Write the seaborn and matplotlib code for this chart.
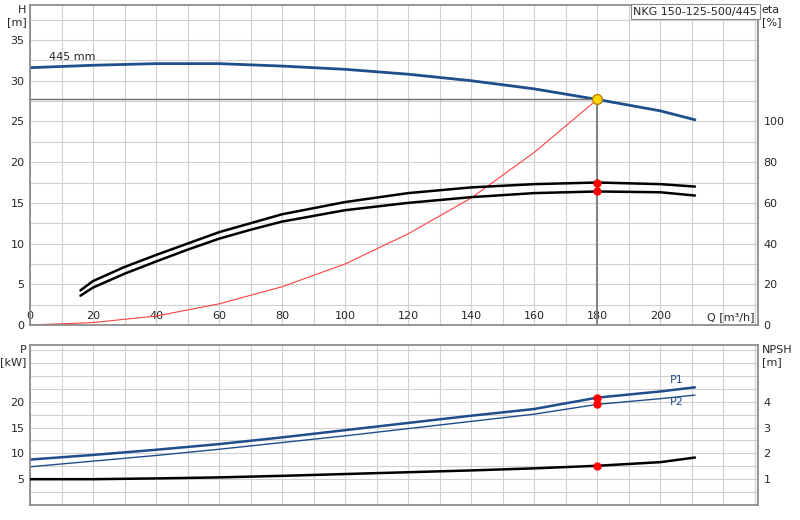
import numpy as np
import matplotlib
matplotlib.use("Agg")
import matplotlib.pyplot as plt
import seaborn as sns

# ---- data ----
q_h = [0, 20, 40, 60, 80, 100, 120, 140, 160, 180, 200, 211]
h = [31.6, 31.9, 32.1, 32.1, 31.8, 31.4, 30.8, 30.0, 29.0, 27.7, 26.3, 25.2]
q_eta = [16, 20, 30, 40, 50, 60, 70, 80, 100, 120, 140, 160, 180, 200, 211]
eta1 = [17, 21.6, 28.5, 34.4, 40, 45.6, 50, 54.4, 60.4, 64.8, 67.6, 69.2, 70, 69.2, 68]
eta2 = [14.4, 18.4, 25.2, 31.2, 37, 42.4, 46.8, 50.8, 56.4, 60, 62.8, 64.8, 65.6, 65.2, 63.6]
q_sys = [0, 20, 40, 60, 80, 100, 120, 140, 160, 180]
h_sys = [0, 0.3, 1.1, 2.6, 4.7, 7.5, 11.2, 15.6, 21.2, 27.7]
q_p = [0, 20, 40, 60, 80, 100, 120, 140, 160, 180, 200, 211]
p1 = [8.8, 9.7, 10.7, 11.8, 13.1, 14.5, 15.9, 17.3, 18.6, 20.8, 22.0, 22.8]
p2 = [7.4, 8.5, 9.6, 10.8, 12.1, 13.4, 14.8, 16.2, 17.6, 19.5, 20.6, 21.3]
npsh = [1.0, 1.0, 1.03, 1.07, 1.13, 1.2, 1.27, 1.34, 1.42, 1.52, 1.66, 1.84]
q_op = 180
h_op, eta1_op, eta2_op, p1_op, p2_op, npsh_op = 27.7, 70, 65.6, 20.8, 19.5, 1.52
x_ticks = list(range(0, 201, 20))

sns.set_theme(style="white")
plt.rcParams["font.family"] = ["DejaVu Sans"]
plt.rcParams["font.size"] = 8

fig = plt.figure(figsize=(8, 5.2), dpi=100)
ax = fig.add_axes([30/800, 1-325/520, 728/800, 320/520])
bx = fig.add_axes([30/800, 1-505/520, 728/800, 160/520])
blue = "#1f4e8c"
grid = "#d0d0d0"

for a in (ax, bx):
    a.set_xlim(0, 231)
    a.set_xticks(x_ticks)
    a.xaxis.set_minor_locator(matplotlib.ticker.MultipleLocator(10))
    a.grid(True, which="both", color=grid, lw=0.8)
    for s in a.spines.values():
        s.set_color("#888888")
    a.tick_params(which="both", labelsize=8, length=0, pad=4)

ax.set_ylim(0, 39.3)
ax.set_yticks(range(0, 36, 5))
ax.yaxis.set_minor_locator(matplotlib.ticker.MultipleLocator(2.5))
ax.set_xticklabels([str(v) for v in x_ticks])
ax.tick_params(axis="x", pad=-10)

sns.lineplot(x=q_sys, y=h_sys, ax=ax, color="#ff4040", lw=0.8, zorder=1)
sns.lineplot(x=q_h, y=h, ax=ax, color=blue, lw=2)
ax.plot([0, q_op], [h_op, h_op], color="#707070", lw=1)
ax.plot([q_op, q_op], [0, h_op], color="#707070", lw=1.2)
ax.plot(q_op, h_op, "o", ms=7, mfc="#ffd700", mec="#c08000", zorder=5)
ax.text(6, 32.6, "445 mm", fontsize=8)
ax.text(-0.005, 1.0, "H\n[m]", transform=ax.transAxes, ha="right", va="top", fontsize=8)
ax.text(230, 0.3, "Q [m³/h]", ha="right", va="bottom", fontsize=8)
ax.text(0.999, 0.995, "NKG 150-125-500/445", transform=ax.transAxes, ha="right", va="top",
        fontsize=8, bbox=dict(fc="white", ec="#888888", lw=0.8, pad=2))

ax2 = ax.twinx()
ax2.set_ylim(0, 39.3 * 4)
ax2.set_yticks(range(0, 101, 20))
ax2.tick_params(labelsize=8, length=0, pad=4)
for s in ax2.spines.values():
    s.set_visible(False)
sns.lineplot(x=q_eta, y=eta1, ax=ax2, color="black", lw=1.8)
sns.lineplot(x=q_eta, y=eta2, ax=ax2, color="black", lw=1.8)
ax2.plot([q_op, q_op], [eta1_op, eta2_op], "o", ms=5, color="red")
ax2.set_ylabel("")
ax2.text(1.005, 1.0, "eta\n[%]", transform=ax.transAxes, ha="left", va="top", fontsize=8)

bx.set_ylim(0, 31)
bx.set_yticks([5, 10, 15, 20])
bx.yaxis.set_minor_locator(matplotlib.ticker.MultipleLocator(2.5))
bx.set_xticklabels([])
sns.lineplot(x=q_p, y=p1, ax=bx, color=blue, lw=1.8)
sns.lineplot(x=q_p, y=p2, ax=bx, color=blue, lw=1)
bx.plot([q_op, q_op], [p1_op, p2_op], "o", ms=5, color="red")
bx.text(203, 23.6, "P1", color=blue, fontsize=8)
bx.text(203, 19.3, "P2", color=blue, fontsize=8)
bx.text(-0.005, 1.0, "P\n[kW]", transform=bx.transAxes, ha="right", va="top", fontsize=8)

bx2 = bx.twinx()
bx2.set_ylim(0, 31 / 5)
bx2.set_yticks([1, 2, 3, 4])
bx2.tick_params(labelsize=8, length=0, pad=4)
for s in bx2.spines.values():
    s.set_visible(False)
sns.lineplot(x=q_p, y=npsh, ax=bx2, color="black", lw=1.8)
bx2.plot(q_op, npsh_op, "o", ms=5, color="red")
bx2.set_ylabel("")
bx2.text(1.005, 1.0, "NPSH\n[m]", transform=bx.transAxes, ha="left", va="top", fontsize=8)

for a in (ax, bx):
    a.set_xlabel("")
    a.set_ylabel("")

fig.savefig("out.png", dpi=100)
